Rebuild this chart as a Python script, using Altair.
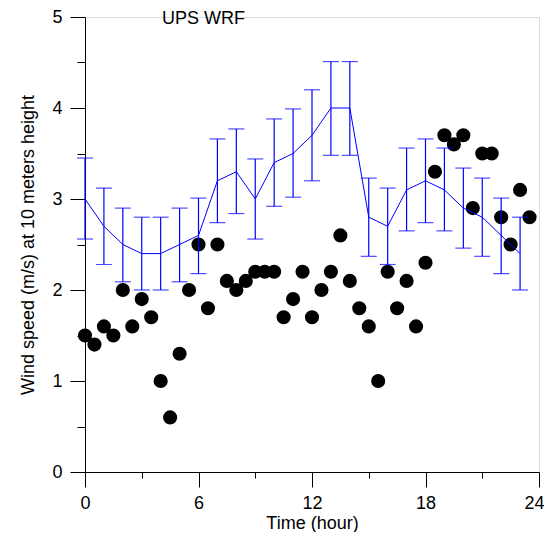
import altair as alt
import pandas as pd

# Observations (every half hour)
obs_hour = [0.0, 0.5, 1.0, 1.5, 2.0, 2.5, 3.0, 3.5, 4.0, 4.5, 5.0, 5.5,
            6.0, 6.5, 7.0, 7.5, 8.0, 8.5, 9.0, 9.5, 10.0, 10.5, 11.0, 11.5,
            12.0, 12.5, 13.0, 13.5, 14.0, 14.5, 15.0, 15.5, 16.0, 16.5, 17.0, 17.5,
            18.0, 18.5, 19.0, 19.5, 20.0, 20.5, 21.0, 21.5, 22.0, 22.5, 23.0, 23.5]
obs_speed = [1.5, 1.4, 1.6, 1.5, 2.0, 1.6, 1.9, 1.7, 1.0, 0.6, 1.3, 2.0,
             2.5, 1.8, 2.5, 2.1, 2.0, 2.1, 2.2, 2.2, 2.2, 1.7, 1.9, 2.2,
             1.7, 2.0, 2.2, 2.6, 2.1, 1.8, 1.6, 1.0, 2.2, 1.8, 2.1, 1.6,
             2.3, 3.3, 3.7, 3.6, 3.7, 2.9, 3.5, 3.5, 2.8, 2.5, 3.1, 2.8]

# WRF model (hourly) with error bars
wrf_hour = [0, 1, 2, 3, 4, 5, 6, 7, 8, 9, 10, 11,
            12, 13, 14, 15, 16, 17, 18, 19, 20, 21, 22, 23]
wrf_mean = [3.0, 2.7, 2.5, 2.4, 2.4, 2.5, 2.6, 3.2, 3.3, 3.0, 3.4, 3.5,
            3.7, 4.0, 4.0, 2.8, 2.7, 3.1, 3.2, 3.1, 2.9, 2.8, 2.6, 2.4]
wrf_upper = [3.45, 3.12, 2.9, 2.8, 2.8, 2.9, 3.01, 3.66, 3.77, 3.44, 3.88, 3.99,
             4.2, 4.51, 4.51, 3.23, 3.12, 3.56, 3.66, 3.56, 3.34, 3.23, 3.01, 2.8]
wrf_lower = [2.56, 2.28, 2.09, 2.0, 2.0, 2.09, 2.18, 2.74, 2.84, 2.56, 2.92, 3.02,
             3.2, 3.48, 3.48, 2.37, 2.28, 2.65, 2.74, 2.65, 2.46, 2.37, 2.18, 2.0]

x_major = [0, 6, 12, 18, 24]
x_minor = [3, 9, 15, 21]
y_major = [0, 1, 2, 3, 4, 5]
y_minor = [0.5, 1.5, 2.5, 3.5, 4.5]

obs = pd.DataFrame({"hour": obs_hour, "speed": obs_speed})
wrf = pd.DataFrame({"hour": wrf_hour, "mean": wrf_mean,
                    "upper": wrf_upper, "lower": wrf_lower})

FONT = "Liberation Sans"
xs = alt.Scale(domain=[0, 24], nice=False, zero=False)
ys = alt.Scale(domain=[0, 5], nice=False, zero=False)
BLUE = "#0000ff"

common_axis = dict(domainColor="black", domainWidth=1, tickColor="black", tickWidth=1,
                   grid=False, labelFont=FONT, titleFont=FONT, labelFontSize=18,
                   titleFontSize=18, labelColor="black", titleColor="black",
                   titleFontWeight="normal")

points = alt.Chart(obs).mark_circle(size=200, opacity=1, color="black").encode(
    x=alt.X("hour:Q", scale=xs,
            axis=alt.Axis(values=x_major, tickSize=15, labelPadding=7,
                          labelOffset={"condition": {"test": "datum.value === 24",
                                                     "value": -5},
                                       "value": 0},
                          title="Time (hour)", titlePadding=2, orient="bottom",
                          labelFlush=False, labelOverlap=False, **common_axis)),
    y=alt.Y("speed:Q", scale=ys,
            axis=alt.Axis(values=y_major, tickSize=15, labelPadding=8,
                          title="Wind speed (m/s) at 10 meters height", titlePadding=14,
                          orient="left", labelFlush=False, labelOverlap=False,
                          **common_axis)),
)

minor = alt.Chart(obs).mark_point(opacity=0).encode(
    x=alt.X("hour:Q", scale=xs,
            axis=alt.Axis(values=x_minor, tickSize=6, labels=False, domain=False,
                          title=None, orient="bottom", tickColor="black", grid=False)),
    y=alt.Y("speed:Q", scale=ys,
            axis=alt.Axis(values=y_minor, tickSize=8, labels=False, domain=False,
                          title=None, orient="left", tickColor="black", grid=False)),
)

bars = alt.Chart(wrf).mark_rule(color=BLUE, strokeWidth=1.2).encode(
    x=alt.X("hour:Q", scale=xs, axis=None),
    y=alt.Y("lower:Q", scale=ys, axis=None),
    y2="upper:Q",
)

cap_top = alt.Chart(wrf).mark_tick(color=BLUE, orient="horizontal", size=16,
                                   thickness=1.2).encode(
    x=alt.X("hour:Q", scale=xs, axis=None),
    y=alt.Y("upper:Q", scale=ys, axis=None),
)
cap_bot = alt.Chart(wrf).mark_tick(color=BLUE, orient="horizontal", size=16,
                                   thickness=1.2).encode(
    x=alt.X("hour:Q", scale=xs, axis=None),
    y=alt.Y("lower:Q", scale=ys, axis=None),
)

line = alt.Chart(wrf).mark_line(color=BLUE, strokeWidth=1).encode(
    x=alt.X("hour:Q", scale=xs, axis=None),
    y=alt.Y("mean:Q", scale=ys, axis=None),
)

chart = alt.layer(points, minor, bars, cap_top, cap_bot, line).resolve_axis(
    x="independent", y="independent"
).properties(
    width=454, height=455,
    title=alt.TitleParams("UPS WRF", frame="group", anchor="start", dx=77,
                          offset=-20, font=FONT, fontSize=18, fontWeight="normal",
                          color="black"),
    autosize=alt.AutoSizeParams(type="none"),
    padding={"left": 77, "top": 9, "right": 5, "bottom": 60},
).configure_view(stroke=None).configure(background="white")

chart.save("out.html", embed_options={"renderer": "svg", "actions": False})
